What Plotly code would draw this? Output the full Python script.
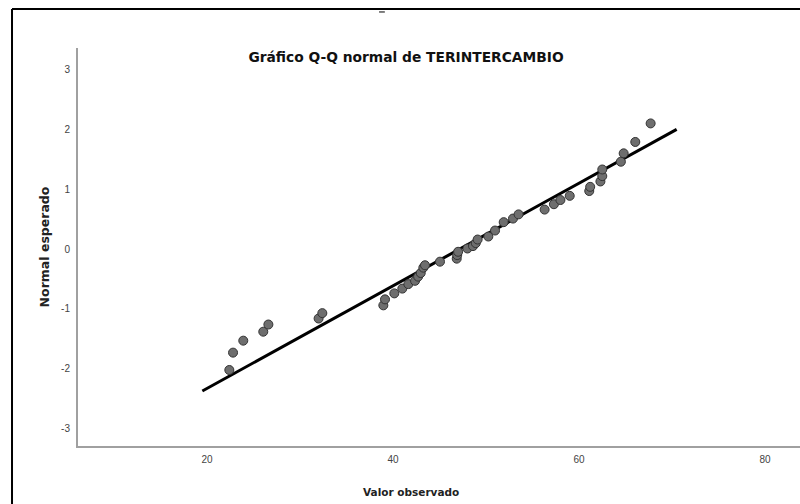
import plotly.graph_objects as go

# observed values (x) and expected normal quantiles (y)
observed = [
    22.4, 22.8, 23.9, 26.05, 26.6, 32.0, 32.4,
    38.96, 39.14, 40.14, 41.0, 41.65, 42.37, 42.7, 42.98, 43.26, 43.44,
    45.05, 46.85, 46.9, 47.0, 48.0, 48.6, 48.9, 49.1,
    50.25, 50.97, 51.9, 52.9, 53.5, 56.3, 57.3, 58.0, 59.0,
    61.1, 61.2, 62.3, 62.5, 62.5, 64.5, 64.8, 66.05, 67.7,
]
expected = [
    -2.02, -1.73, -1.53, -1.38, -1.26, -1.16, -1.07,
    -0.94, -0.84, -0.74, -0.66, -0.585, -0.53, -0.46, -0.40, -0.31, -0.27,
    -0.21, -0.16, -0.10, -0.045, 0.01, 0.05, 0.10, 0.16,
    0.21, 0.31, 0.45, 0.51, 0.58, 0.66, 0.75, 0.82, 0.89,
    0.97, 1.04, 1.13, 1.22, 1.33, 1.46, 1.60, 1.79, 2.10,
]

# reference line endpoints
line_x = [19.5, 70.5]
line_y = [-2.37, 2.0]

x_ticks = [20, 40, 60, 80]
y_ticks = [-3, -2, -1, 0, 1, 2, 3]
y_tick_text = ["-3", "-2", "-1", "0", "1", "2", "3"]

fig = go.Figure()
fig.add_trace(go.Scatter(
    x=line_x, y=line_y, mode="lines",
    line=dict(color="black", width=3), hoverinfo="skip",
))
fig.add_trace(go.Scatter(
    x=observed, y=expected, mode="markers",
    marker=dict(size=9, color="#6e6e6e", line=dict(color="#333333", width=1)),
))

tick_font = dict(family="Liberation Sans, Arial, sans-serif", size=10, color="#444444")
bold_font = "DejaVu Sans, sans-serif"

fig.update_layout(
    width=800,
    height=504,
    showlegend=False,
    paper_bgcolor="white",
    plot_bgcolor="white",
    margin=dict(l=78, r=0, t=48, b=58),
    title=dict(
        text="<b>Gráfico Q-Q normal de TERINTERCAMBIO</b>",
        x=406 / 800, xanchor="center", y=1 - 57 / 504, yanchor="middle",
        font=dict(family=bold_font, size=13.8, color="#111111"),
    ),
    xaxis=dict(
        range=[6.13, 83.76], tickvals=x_ticks, showgrid=False, zeroline=False,
        showline=True, linecolor="#a0a0a0", linewidth=2, ticks="",
        tickfont=tick_font, ticklabelstandoff=3,
    ),
    yaxis=dict(
        range=[-3.29, 3.36], tickvals=y_ticks, ticktext=y_tick_text, showgrid=False, zeroline=False,
        showline=True, linecolor="#a0a0a0", linewidth=2, ticks="",
        tickfont=tick_font, ticklabelstandoff=4,
        title=dict(text="<b>Normal esperado</b>", font=dict(family=bold_font, size=12.5, color="#222222"),
                   standoff=9),
    ),
    annotations=[
        dict(text="<b>Valor observado</b>", xref="paper", yref="paper", x=(411 - 78) / 722, y=-0.1156,
             xanchor="center", yanchor="middle", showarrow=False,
             font=dict(family=bold_font, size=10.5, color="#222222")),
    ],
    shapes=[
        # outer frame of the exported picture
        dict(type="line", xref="paper", yref="paper", x0=-0.0914, x1=1.05, y0=1.098, y1=1.098,
             line=dict(color="black", width=2)),
        dict(type="line", xref="paper", yref="paper", x0=-0.0914, x1=-0.0914, y0=1.098, y1=-0.3,
             line=dict(color="black", width=2)),
        dict(type="line", xref="paper", yref="paper", x0=0.417, x1=0.425, y0=1.0905, y1=1.0905,
             line=dict(color="black", width=1)),
    ],
)

# drop the page margin so the figure sits at the window's corner
fig.write_html(
    "out.html",
    config={"displayModeBar": False},
    post_script="document.body.style.margin='0';document.body.style.overflow='hidden';",
)
